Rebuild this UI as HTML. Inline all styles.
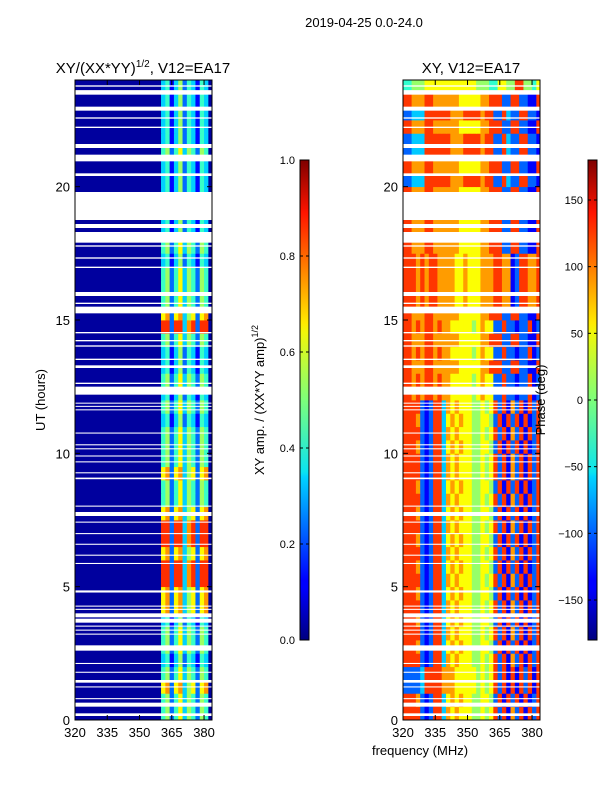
<!DOCTYPE html>
<html><head><meta charset="utf-8">
<style>
body{margin:0;background:#fff;font-family:"Liberation Sans",sans-serif;}
svg text{font-family:"Liberation Sans","DejaVu Sans",sans-serif;fill:#000;}
</style></head>
<body>
<svg id="fig" width="600" height="800" viewBox="0 0 600 800" xmlns="http://www.w3.org/2000/svg">
<defs>
<linearGradient id="jet" x1="0" y1="1" x2="0" y2="0">
<stop offset="0" stop-color="#00007f"/><stop offset="0.11" stop-color="#0000ff"/>
<stop offset="0.125" stop-color="#0000ff"/><stop offset="0.34" stop-color="#00d4ff"/>
<stop offset="0.35" stop-color="#0ae4f0"/><stop offset="0.5" stop-color="#7dff7a"/>
<stop offset="0.64" stop-color="#f0f70a"/><stop offset="0.66" stop-color="#ffea00"/>
<stop offset="0.89" stop-color="#ff1400"/><stop offset="1" stop-color="#7f0000"/>
</linearGradient>
</defs>
<text x="364" y="27" font-size="13" text-anchor="middle">2019-04-25 0.0-24.0</text>
<g id="left"></g>
<g id="right"></g>
<text x="143" y="73" font-size="15" text-anchor="middle">XY/(XX*YY)<tspan dy="-6" font-size="10">1/2</tspan><tspan dy="6">, V12=EA17</tspan></text>
<text x="471" y="73" font-size="15" text-anchor="middle">XY, V12=EA17</text>
<text transform="translate(45,400) rotate(-90)" font-size="13" text-anchor="middle">UT (hours)</text>
<text x="420" y="755" font-size="13" text-anchor="middle">frequency (MHz)</text>
<text transform="translate(264,400) rotate(-90)" font-size="13" text-anchor="middle">XY amp. / (XX*YY amp)<tspan dy="-6" font-size="9">1/2</tspan></text>
<text transform="translate(545,400) rotate(-90)" font-size="13" text-anchor="middle">Phase (deg)</text>
<g id="cb1"></g>
<g id="cb2"></g>
</svg>
<script>
const hourTicks=[0,5,10,15,20];
const freqTicks=[320,335,350,365,380];
const ampTicks=[0.0,0.2,0.4,0.6,0.8,1.0];
const phaseTicks=[-150,-100,-50,0,50,100,150];
const flags=[[23.75,23.8],[23.45,23.62],[22.85,23.0],[22.55,22.6],[22.2,22.25],[21.45,21.6],[20.95,21.2],[20.4,20.5],[18.75,19.8],[18.45,18.6],[17.9,18.3],[17.75,17.8],[17.3,17.35],[16.95,17.0],[15.9,16.05],[15.6,15.65],[15.25,15.5],[14.5,14.55],[14.2,14.25],[14.0,14.05],[13.5,13.55],[13.2,13.3],[12.6,12.65],[12.2,12.5],[11.87,11.9],[11.75,11.78],[11.62,11.65],[10.74,10.78],[10.3,10.34],[10.15,10.19],[9.88,9.92],[9.66,9.7],[9.25,9.29],[9.03,9.09],[8.0,8.04],[7.65,7.8],[7.4,7.44],[6.97,7.01],[6.57,6.61],[6.16,6.2],[5.85,5.89],[4.78,4.86],[4.25,4.29],[4.13,4.17],[3.85,4.0],[3.65,3.8],[3.5,3.54],[3.35,3.39],[3.2,3.24],[2.6,2.8],[2.1,2.14],[1.77,1.81],[1.4,1.5],[1.22,1.26],[0.78,0.82],[0.5,0.65],[0.15,0.25]];
const Z="00000000000000000000";
const aA=Z+"452463542540", aB=Z+"341352431430", aR=Z+"882883782880", aY=Z+"672673562670";
const ampRows=[aA,aA,aY,aA,aB,aA,aA,aB,aY,aY,aR,aR,aY,aR,aR,aY,aA,aA,aY,aA,aA,aA,aB,aA,aB,aA,aB,aB,aA,aR,aY,aA,aA,aA,aB,aA,aB,aB,aB,aB,aB,aB,aA,aB,aB,aB,aB,aB];
const L1="88882128837676665565682817281828",L2="88872128836767665566528182818128",L3="22223888877766666565682818182818";
const U1="88787887877666665676622822122812",U2="88878788777766766677788771288778",U3="22333888888777888878822832288221",U4="88777887777776666677888228822118",T="44555666666666666555446655885546";
const phaseRows=[L1,L2,L3,L3,L1,L2,L1,L2,L1,L2,L1,L2,L1,L2,L1,L2,L1,L2,L1,L1,L2,L1,L2,L1,U1,U1,U4,U1,U4,U1,U4,U2,U2,U2,U2,U4,U4,U4,U2,U4,U3,U4,U3,U3,U4,U3,U4,T];

const NS="http://www.w3.org/2000/svg";
const fmin=320,fmax=383.7,hmax=24;
function jet(v){v=Math.max(0,Math.min(1,v));
 const r=Math.max(0,Math.min(1,1.5-Math.abs(4*v-3))),g=Math.max(0,Math.min(1,1.5-Math.abs(4*v-2))),b=Math.max(0,Math.min(1,1.5-Math.abs(4*v-1)));
 return `rgb(${Math.round(r*255)},${Math.round(g*255)},${Math.round(b*255)})`;}
function mk(tag,at,parent){const e=document.createElementNS(NS,tag);for(const k in at)e.setAttribute(k,at[k]);parent.appendChild(e);return e;}
function panel(g,x0,rows,valFn,name){
 const W=137,y0=80,H=640;
 const xs=f=>x0+(f-fmin)/(fmax-fmin)*W, ys=h=>y0+H-h/hmax*H;
 const nr=rows.length,nc=rows[0].length;
 rows.forEach((row,i)=>{for(let j=0;j<nc;j++){
  const f0=fmin+j*2,f1=Math.min(fmax,f0+2);
  const r=mk('rect',{x:xs(f0),y:ys((i+1)*hmax/nr),width:xs(f1)-xs(f0)+0.4,height:ys(i*hmax/nr)-ys((i+1)*hmax/nr)+0.4,fill:jet(valFn(+row[j]))},g);
  
  
 }});
 flags.forEach(fl=>{const r=mk('rect',{x:x0,y:ys(fl[1]),width:W,height:Math.max(1,ys(fl[0])-ys(fl[1])),fill:'#fff'},g);
  
  });
 const fr=mk('rect',{x:x0,y:y0,width:W,height:H,fill:'none',stroke:'#000','stroke-width':1},g);
 
 
 hourTicks.forEach(h=>{const y=ys(h);
  mk('line',{x1:x0,x2:x0+5,y1:y,y2:y,stroke:'#000'},g);mk('line',{x1:x0+W,x2:x0+W-5,y1:y,y2:y,stroke:'#000'},g);
  const t=mk('text',{x:x0-5,y:y+5,'font-size':13,'text-anchor':'end'},g);t.textContent=h;
  
  });
 freqTicks.forEach(f=>{const x=xs(f);
  mk('line',{x1:x,x2:x,y1:y0+H,y2:y0+H-5,stroke:'#000'},g);mk('line',{x1:x,x2:x,y1:y0,y2:y0+5,stroke:'#000'},g);
  const t=mk('text',{x:x,y:y0+H+17,'font-size':13,'text-anchor':'middle'},g);t.textContent=f;
  
  });
}
panel(document.getElementById('left'),75,ampRows,d=>0.03+d*0.1,'amplitude');
panel(document.getElementById('right'),403,phaseRows,d=>(d*36+8)/360,'phase');
function cbar(g,x0,ticks,vmin,vmax,fmt){
 const y0=160,H=480,W=9;
 mk('rect',{x:x0,y:y0,width:W,height:H,fill:'url(#jet)',stroke:'#000','stroke-width':1},g);
 ticks.forEach(v=>{const y=y0+H-(v-vmin)/(vmax-vmin)*H;
  mk('line',{x1:x0,x2:x0+3,y1:y,y2:y,stroke:'#000'},g);mk('line',{x1:x0+W,x2:x0+W-3,y1:y,y2:y,stroke:'#000'},g);
  const t=mk('text',{x:x0-5,y:y+4,'font-size':11,'text-anchor':'end'},g);t.textContent=fmt(v);
  
  });
}
cbar(document.getElementById('cb1'),300,ampTicks,0,1,v=>v.toFixed(1));
cbar(document.getElementById('cb2'),588,phaseTicks,-180,180,v=>v<0?'\u2212'+(-v):''+v);
</script>
</body></html>
